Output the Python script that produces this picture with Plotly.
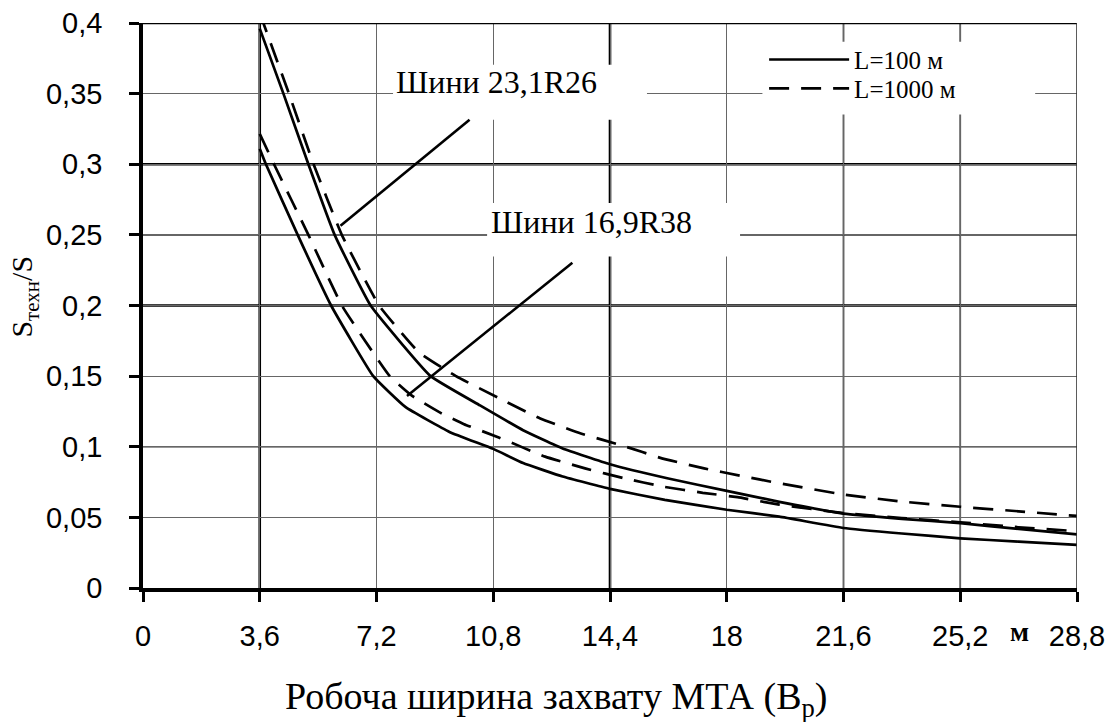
import plotly.graph_objects as go

# ---------------- data ----------------
x_tickvals = [0, 3.6, 7.2, 10.8, 14.4, 18, 21.6, 25.2, 28.8]
x_ticktext = ["0", "3,6", "7,2", "10,8", "14,4", "18", "21,6", "25,2", "28,8"]
y_tickvals = [0, 0.05, 0.1, 0.15, 0.2, 0.25, 0.3, 0.35, 0.4]
y_ticktext = ["0", "0,05", "0,1", "0,15", "0,2", "0,25", "0,3", "0,35", "0,4"]

# Tyres 23,1R26, L = 100 m (solid)
x_231_l100 = [3.6, 4.33, 5.1, 5.91, 7.02, 8.87, 10.39, 11.72, 12.94, 14.4, 16.2, 18, 19.62, 21.6, 23.4, 25.2, 27, 28.8]
y_231_l100 = [0.396, 0.35, 0.30, 0.25, 0.20, 0.15, 0.1293, 0.1117, 0.0988, 0.0876, 0.0775, 0.0688, 0.061, 0.0527, 0.049, 0.0459, 0.0418, 0.0379]

# Tyres 23,1R26, L = 1000 m (dashed)
x_231_l1000 = [3.6, 4.5, 5.26, 6.13, 7.28, 8.5, 9.65, 10.95, 12.25, 13.5, 14.8, 16.0, 17.3, 18.4, 19.6, 21.6, 23.4, 25.2, 27, 28.8]
y_231_l1000 = [0.407, 0.35, 0.30, 0.25, 0.20, 0.167, 0.15, 0.1347, 0.12, 0.1094, 0.1007, 0.0918, 0.0847, 0.0796, 0.0742, 0.0662, 0.0612, 0.0575, 0.0543, 0.051]

# Tyres 16,9R38, L = 100 m (solid)
x_169_l100 = [3.6, 3.79, 4.77, 5.8, 7.1, 8.1, 9.45, 10.8, 11.72, 12.94, 14.4, 16.09, 18, 19.62, 21.6, 23.4, 25.2, 27, 28.8]
y_169_l100 = [0.311, 0.30, 0.25, 0.20, 0.15, 0.128, 0.1105, 0.0985, 0.0885, 0.0789, 0.0702, 0.0624, 0.0554, 0.0505, 0.0425, 0.0386, 0.0352, 0.0328, 0.0306]

# Tyres 16,9R38, L = 1000 m (dashed)
x_169_l1000 = [3.6, 4.04, 5.1, 6.13, 7.61, 8.3, 9.15, 9.9, 10.97, 12.4, 13.63, 14.83, 16.03, 17.26, 18.33, 19.62, 21.6, 23.4, 25.2, 27, 28.8]
y_169_l1000 = [0.3215, 0.30, 0.25, 0.20, 0.15, 0.136, 0.1243, 0.116, 0.1066, 0.093, 0.0847, 0.0777, 0.0718, 0.0674, 0.0643, 0.059, 0.053, 0.0495, 0.0465, 0.043, 0.0402]

# leader lines of the tyre labels
leader_231_x = [10.07, 6.09]
leader_231_y = [0.3315, 0.2565]
leader_169_x = [13.24, 8.14]
leader_169_y = [0.2303, 0.136]

series_names = ["L=100 м", "L=1000 м"]
label_231 = "Шини 23,1R26"
label_169 = "Шини 16,9R38"

# ---------------- style ----------------
SERIF = "Liberation Serif, Times New Roman, serif"
SANS = "Liberation Sans, Arial, sans-serif"
LW = 2.7
DASH = "20px,12px"
SPL = dict(shape="spline", smoothing=0.35)

fig = go.Figure()

fig.add_trace(go.Scatter(x=x_231_l100, y=y_231_l100, mode="lines", name=series_names[0],
                         legend="legend", showlegend=True,
                         line=dict(color="black", width=LW, **SPL)))
fig.add_trace(go.Scatter(x=x_231_l1000, y=y_231_l1000, mode="lines", name=series_names[1],
                         legend="legend2", showlegend=True,
                         line=dict(color="black", width=LW, dash=DASH, **SPL)))
fig.add_trace(go.Scatter(x=x_169_l100, y=y_169_l100, mode="lines", name=series_names[0],
                         showlegend=False,
                         line=dict(color="black", width=LW, **SPL)))
fig.add_trace(go.Scatter(x=x_169_l1000, y=y_169_l1000, mode="lines", name=series_names[1],
                         showlegend=False,
                         line=dict(color="black", width=LW, dash=DASH, **SPL)))
fig.add_trace(go.Scatter(x=leader_231_x, y=leader_231_y, mode="lines", showlegend=False,
                         hoverinfo="skip", line=dict(color="black", width=2.6)))
fig.add_trace(go.Scatter(x=leader_169_x, y=leader_169_y, mode="lines", showlegend=False,
                         hoverinfo="skip", line=dict(color="black", width=2.6)))

# heavier grid lines (drawn under the regular grid)
for xv, w, c in [(3.6, 2.6, "black"), (14.4, 2.6, "black"), (21.6, 1.7, "#333"), (25.2, 1.7, "#333")]:
    fig.add_shape(type="line", xref="x", yref="y", x0=xv, x1=xv, y0=0, y1=0.4,
                  layer="below", line=dict(color=c, width=w))
for yv, w, c in [(0.2, 2.6, "black"), (0.3, 2.6, "black"), (0.1, 1.7, "#333"), (0.25, 1.7, "#333")]:
    fig.add_shape(type="line", xref="x", yref="y", x0=0, x1=28.8, y0=yv, y1=yv,
                  layer="below", line=dict(color=c, width=w))

# white boxes behind labels / legend that interrupt the grid
for (bx0, bx1, by0, by1) in [(7.71, 15.54, 0.3315, 0.3705),
                             (10.61, 18.41, 0.2347, 0.2726),
                             (19.1, 27.51, 0.3352, 0.3868)]:
    fig.add_shape(type="rect", xref="x", yref="y", x0=bx0, x1=bx1, y0=by0, y1=by1,
                  layer="between", line=dict(width=0), fillcolor="white")

# top and right frame
fig.add_shape(type="line", xref="x", yref="y", x0=0, x1=28.8, y0=0.4, y1=0.4,
              layer="above", line=dict(color="black", width=2.4))
fig.add_shape(type="line", xref="x", yref="y", x0=28.8, x1=28.8, y0=0, y1=0.4,
              layer="above", line=dict(color="#333", width=1.6))

# labels
fig.add_annotation(x=10.9, y=0.358, xref="x", yref="y", text=label_231, showarrow=False,
                   font=dict(family=SERIF, size=32, color="black"))
fig.add_annotation(x=13.83, y=0.259, xref="x", yref="y", text=label_169, showarrow=False,
                   font=dict(family=SERIF, size=32, color="black"))
fig.add_annotation(x=0.442, y=-0.196, xref="paper", yref="paper", yanchor="middle",
                   text="Робоча ширина захвату МТА (В<sub>р</sub>)", showarrow=False,
                   font=dict(family=SERIF, size=38, color="black"))
fig.add_annotation(x=-0.15, y=0.5156, xref="paper", yref="paper", textangle=-90,
                   text="S<sub>техн</sub>/S", showarrow=False,
                   font=dict(family=SERIF, size=30, color="black"))
fig.add_annotation(x=0.951, y=-0.1075, xref="paper", yref="paper", text="<b>м</b>",
                   showarrow=False, font=dict(family=SERIF, size=28, color="black"))

common_axis = dict(showgrid=True, gridcolor="#666", gridwidth=1.3,
                   showline=True, linecolor="black", linewidth=3.5,
                   ticks="outside", ticklen=10, tickwidth=3, tickcolor="black",
                   tickfont=dict(family=SANS, size=29, color="black"),
                   zeroline=False, fixedrange=True, automargin=False)
fig.update_xaxes(range=[0, 28.8], tickvals=x_tickvals, ticktext=x_ticktext,
                 ticklabelstandoff=9, **common_axis)
fig.update_yaxes(range=[0, 0.4], tickvals=y_tickvals, ticktext=y_ticktext,
                 ticklabelstandoff=21, **common_axis)

legend_style = dict(x=0.665, xanchor="left", yanchor="middle",
                    bgcolor="rgba(0,0,0,0)", borderwidth=0,
                    font=dict(family=SERIF, size=25, color="black"),
                    itemwidth=80)
fig.update_layout(
    width=1118, height=722,
    margin=dict(l=143, r=41, t=23, b=134, autoexpand=False),
    plot_bgcolor="white", paper_bgcolor="white",
    showlegend=True,
    legend=dict(y=0.935, **legend_style),
    legend2=dict(y=0.8837, **legend_style),
)

fig.write_html("out.html", config={"displayModeBar": False},
               post_script="document.body.style.margin='0px';")
